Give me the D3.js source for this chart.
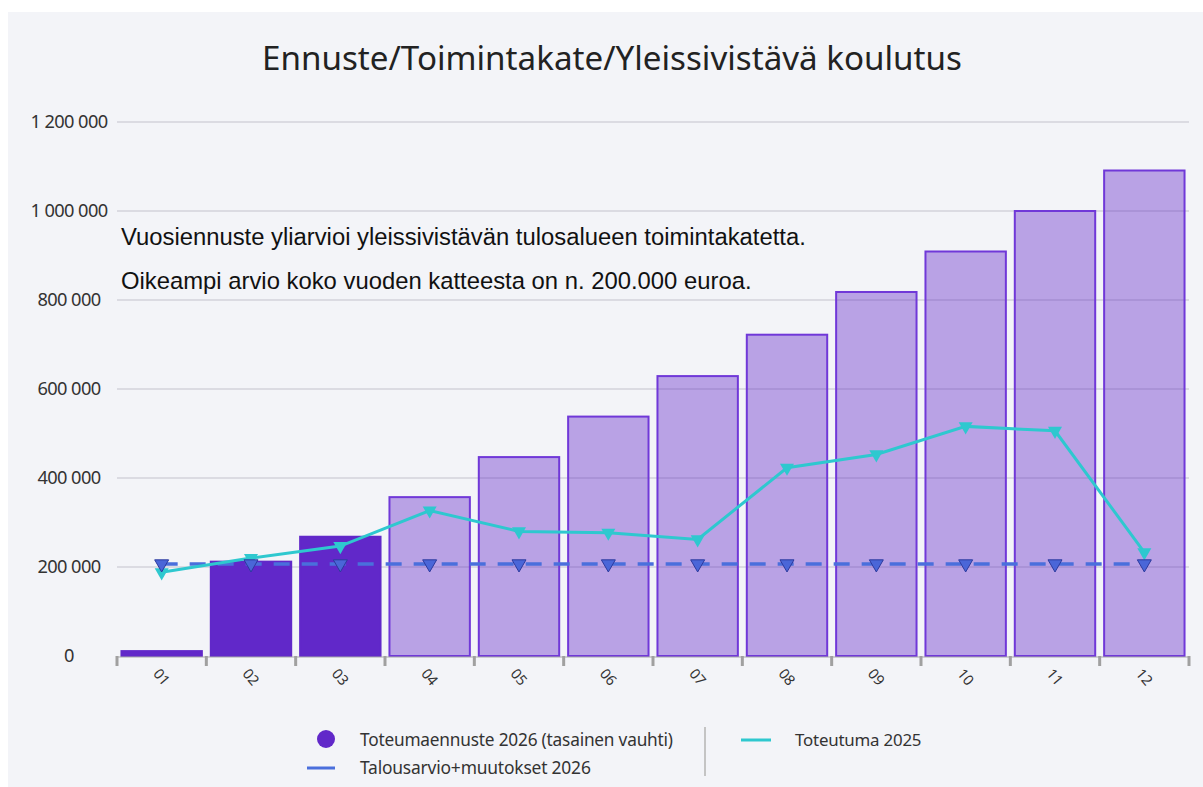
<!DOCTYPE html>
<html><head><meta charset="utf-8">
<script src="https://cdn.jsdelivr.net/npm/d3@7"></script>
<style>body{margin:0;background:#fff}svg{display:block}</style>
</head><body>
<svg id="c" width="1203" height="787"></svg>
<script>
const months = ["01","02","03","04","05","06","07","08","09","10","11","12"];
const forecast2026 = [11000, 212000, 268000, 357000, 447000, 538000, 629000, 722000, 818000, 909000, 1000000, 1091000];
const actualMonths = 3; // first three bars are realised (dark)
const actual2025 = [188000, 220000, 247000, 327000, 280000, 277000, 262000, 423000, 453000, 516000, 506000, 233000];
const budget2026 = [207000, 207000, 207000, 207000, 207000, 207000, 207000, 207000, 207000, 207000, 207000, 207000];
const yTicks = [0, 200000, 400000, 600000, 800000, 1000000, 1200000];
const title = "Ennuste/Toimintakate/Yleissivistävä koulutus";
const notes = ["Vuosiennuste yliarvioi yleissivistävän tulosalueen toimintakatetta.",
               "Oikeampi arvio koko vuoden katteesta on n. 200.000 euroa."];
const legendItems = ["Toteumaennuste 2026 (tasainen vauhti)", "Talousarvio+muutokset 2026", "Toteutuma 2025"];

const svg = d3.select("#c");
const purple = "#6128c9", cyan = "#2ec8cf", blue = "#4a6fdc";

svg.append("rect").attr("x",8).attr("y",12).attr("width",1195).attr("height",775).attr("fill","#f3f4f8");

const x = d3.scaleBand().domain(months).range([117,1189]).paddingInner(0.1).paddingOuter(0.05);
const y = d3.scaleLinear().domain([0,1200000]).range([656,122]);
const fmt = d3.formatLocale({decimal:",", thousands:" ", grouping:[3], currency:["","€"]}).format(",d");

function fitText(sel, width){
  const fs = +sel.attr("font-size");
  const w = sel.node().getComputedTextLength();
  sel.attr("font-size", fs*width/w);
}

// gridlines
svg.append("g").selectAll("line").data(yTicks.filter(d=>d>0)).join("line")
  .attr("x1",117).attr("x2",1189).attr("y1",d=>y(d)).attr("y2",d=>y(d))
  .attr("stroke","#d3d3db").attr("stroke-width",1.5);

// y labels (centred in the margin)
const yl = svg.append("g").selectAll("text").data(yTicks).join("text")
  .attr("x",69).attr("y",d=>y(d)).attr("dy","0.35em").attr("text-anchor","middle")
  .attr("font-family","'Noto Sans', 'Open Sans', sans-serif").attr("font-size",15)
  .attr("fill","#333").attr("letter-spacing",-0.6).text(d=>fmt(d));
{
  const top = yl.filter(d=>d===1200000);
  const w = top.node().getComputedTextLength();
  yl.attr("font-size", 15*76/w);
}

// title
const t = svg.append("text").attr("x",612).attr("y",70).attr("text-anchor","middle")
  .attr("font-family","'Noto Sans', sans-serif").attr("font-size",31).attr("fill","#222").text(title);
fitText(t, 700);

// bars
svg.append("g").selectAll("rect").data(months).join("rect")
  .attr("x",d=>x(d)).attr("width",x.bandwidth())
  .attr("y",(d,i)=>y(forecast2026[i])).attr("height",(d,i)=>y(0)-y(forecast2026[i]))
  .attr("fill",purple).attr("fill-opacity",(d,i)=>i<actualMonths?1:0.4)
  .attr("stroke",(d,i)=>i<actualMonths?purple:"#7038d8").attr("stroke-width",2);

// x axis
const step = x.step(), half = step*x.paddingInner()/2;
const bounds = months.map(m=>x(m)-half).concat([1189]);
svg.append("line").attr("x1",117).attr("x2",1189).attr("y1",657).attr("y2",657).attr("stroke","#a8a8a8").attr("stroke-width",1);
svg.append("g").selectAll("line").data(bounds).join("line")
  .attr("x1",d=>d).attr("x2",d=>d).attr("y1",656).attr("y2",666)
  .attr("stroke","#a0a0a0").attr("stroke-width",3);
svg.append("g").selectAll("text").data(months).join("text")
  .attr("transform",d=>`translate(${x(d)+x.bandwidth()/2},677) rotate(50)`)
  .attr("text-anchor","middle").attr("dy","0.35em")
  .attr("font-family","'Noto Sans', sans-serif").attr("font-size",14.5).attr("fill","#333").text(d=>d);

// notes
const nt = svg.append("g").selectAll("text").data(notes).join("text")
  .attr("x",121).attr("y",(d,i)=>245+i*44)
  .attr("font-family","'Liberation Sans', Arial, sans-serif").attr("font-size",19).attr("fill","#111").text(d=>d);
const nw = [685, 631];
nt.each(function(d,i){ fitText(d3.select(this), nw[i]); });

// lines
const cx = m=>x(m)+x.bandwidth()/2;
const lineGen = d3.line().x(d=>cx(d.m)).y(d=>y(d.v));
const bData = months.map((m,i)=>({m, v:budget2026[i]}));
const aData = months.map((m,i)=>({m, v:actual2025[i]}));
svg.append("path").datum(bData).attr("d",lineGen).attr("fill","none").attr("stroke",blue)
  .attr("stroke-width",3.5).attr("stroke-dasharray","16,12");
svg.append("path").datum(aData).attr("d",lineGen).attr("fill","none").attr("stroke",cyan).attr("stroke-width",3);
const tri = d3.symbol().type(d3.symbolTriangle).size(85);
svg.append("g").selectAll("path").data(aData).join("path")
  .attr("d",tri).attr("transform",d=>`translate(${cx(d.m)},${y(d.v)}) rotate(180)`).attr("fill",cyan);
svg.append("g").selectAll("path").data(bData).join("path")
  .attr("d",tri).attr("transform",d=>`translate(${cx(d.m)},${y(d.v)}) rotate(180)`)
  .attr("fill","#4a66d8").attr("stroke","#2c3a9e").attr("stroke-width",1);

// legend
const lf = "'Noto Sans', 'Open Sans', sans-serif";
svg.append("circle").attr("cx",326).attr("cy",739).attr("r",9).attr("fill",purple);
svg.append("line").attr("x1",307).attr("x2",335).attr("y1",768).attr("y2",768).attr("stroke",blue).attr("stroke-width",3);
svg.append("line").attr("x1",741).attr("x2",771).attr("y1",740).attr("y2",740).attr("stroke",cyan).attr("stroke-width",3);
svg.append("line").attr("x1",705).attr("x2",705).attr("y1",727).attr("y2",776).attr("stroke","#c4c4c4").attr("stroke-width",2);
const lpos = [[360,740],[360,768],[795,740]];
const lt = svg.append("g").selectAll("text").data(legendItems).join("text")
  .attr("x",(d,i)=>lpos[i][0]).attr("y",(d,i)=>lpos[i][1]).attr("dy","0.35em")
  .attr("font-family",lf).attr("font-size",15).attr("fill","#333").attr("letter-spacing",-0.2).text(d=>d);
const lw = [312, 230, 126];
lt.each(function(d,i){ fitText(d3.select(this), lw[i]); });
</script>
</body></html>
